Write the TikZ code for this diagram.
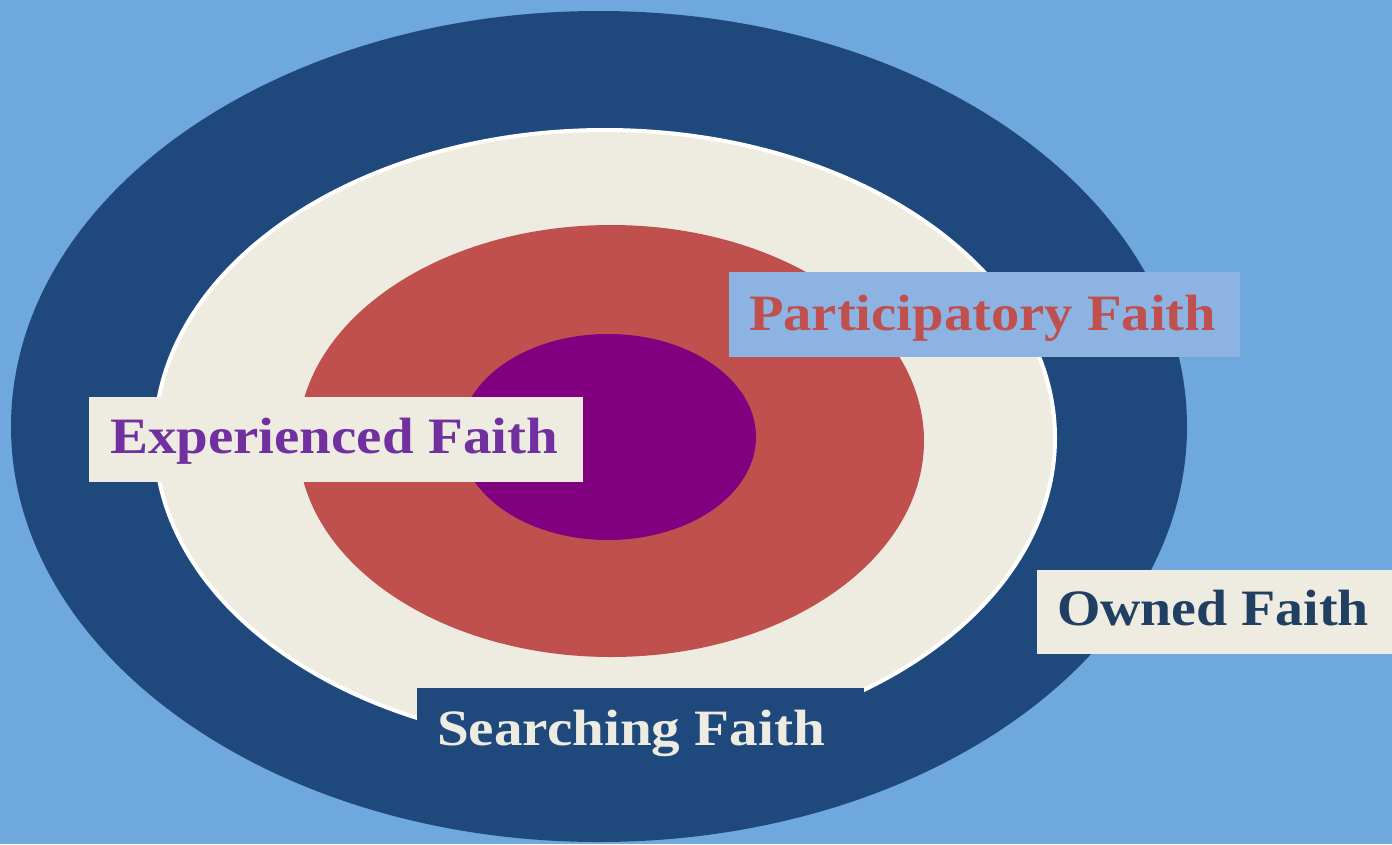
\documentclass[tikz,border=0pt]{standalone}
\usepackage{fontspec}
\setmainfont{Liberation Serif}
\usepackage{graphicx}
\definecolor{bgblue}{HTML}{6FA8DC}
\definecolor{ringblue}{HTML}{1F497D}
\definecolor{cream}{HTML}{EEEBE0}
\definecolor{ringred}{HTML}{C0504D}
\definecolor{corepurple}{HTML}{800080}
\definecolor{lightbox}{HTML}{8DB3E2}
\definecolor{txtpurple}{HTML}{7030A0}
\definecolor{txtnavy}{HTML}{213F63}
\tikzset{
  labelbox/.style={draw=none, inner sep=0pt, outer sep=0pt, anchor=north west},
  labeltext/.style={inner sep=0pt, outer sep=0pt, anchor=base west, font=\fontsize{51}{51}\selectfont\bfseries}
}
\begin{document}
\begin{tikzpicture}[x=1pt,y=-1pt]
\useasboundingbox (0,0) rectangle (1392,844);
\fill[bgblue] (0,0) rectangle (1392,844);
\fill[ringblue] (599,426.5) ellipse [x radius=588, y radius=415.5];
\filldraw[fill=cream, draw=white, line width=4pt] (605,438) ellipse [x radius=450, y radius=308];
\fill[ringred] (611,441) ellipse [x radius=313, y radius=216];
\fill[corepurple] (608,437) ellipse [x radius=148, y radius=103];
% label boxes
\node[labelbox, fill=lightbox, minimum width=511pt, minimum height=85pt] (pbox) at (729,272) {};
\node[labelbox, fill=cream, minimum width=494pt, minimum height=85pt] (ebox) at (89,397) {};
\node[labelbox, fill=cream, minimum width=355pt, minimum height=84pt] (obox) at (1037,570) {};
\node[labelbox, fill=ringblue, minimum width=447pt, minimum height=82pt] (sbox) at (417,688) {};
% texts
\node[labeltext, text=ringred] (ptext) at (749,330) {\resizebox{467pt}{\height}{Participatory Faith}};
\node[labeltext, text=txtpurple] (etext) at (110,453) {\resizebox{448pt}{\height}{Experienced Faith}};
\node[labeltext, text=txtnavy] (otext) at (1057,625) {\resizebox{312pt}{\height}{Owned Faith}};
\node[labeltext, text=cream] (stext) at (437,745) {\resizebox{388pt}{\height}{Searching Faith}};
\end{tikzpicture}
\end{document}
